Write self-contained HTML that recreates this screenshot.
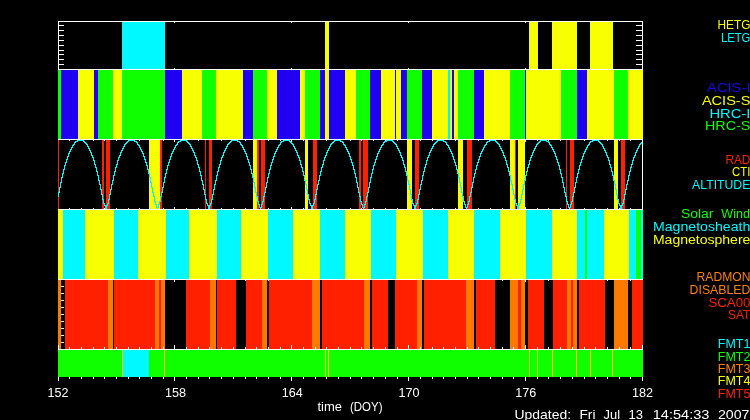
<!DOCTYPE html>
<html><head><meta charset="utf-8"><title>Chandra mission timeline</title>
<style>
html,body{margin:0;padding:0;background:#000;}
body{width:750px;height:420px;overflow:hidden;}
svg{display:block;}
svg text{font-family:"Liberation Sans", sans-serif;}
.blocks rect{shape-rendering:crispEdges;}
</style></head><body>
<svg width="750" height="420" viewBox="0 0 750 420">
<rect x="0" y="0" width="750" height="420" fill="#000"/>
<g class="blocks">
<rect x="58" y="140" width="1" height="2" fill="#ffffff"/>
<rect x="69" y="140" width="1" height="1" fill="#ffffff"/>
<rect x="81" y="140" width="1" height="1" fill="#ffffff"/>
<rect x="93" y="140" width="1" height="1" fill="#ffffff"/>
<rect x="104" y="140" width="1" height="1" fill="#ffffff"/>
<rect x="116" y="140" width="1" height="1" fill="#ffffff"/>
<rect x="128" y="140" width="1" height="1" fill="#ffffff"/>
<rect x="139" y="140" width="1" height="1" fill="#ffffff"/>
<rect x="151" y="140" width="1" height="1" fill="#ffffff"/>
<rect x="163" y="140" width="1" height="1" fill="#ffffff"/>
<rect x="174" y="140" width="1" height="2" fill="#ffffff"/>
<rect x="186" y="140" width="1" height="1" fill="#ffffff"/>
<rect x="198" y="140" width="1" height="1" fill="#ffffff"/>
<rect x="209" y="140" width="1" height="1" fill="#ffffff"/>
<rect x="221" y="140" width="1" height="1" fill="#ffffff"/>
<rect x="233" y="140" width="1" height="1" fill="#ffffff"/>
<rect x="245" y="140" width="1" height="1" fill="#ffffff"/>
<rect x="256" y="140" width="1" height="1" fill="#ffffff"/>
<rect x="268" y="140" width="1" height="1" fill="#ffffff"/>
<rect x="280" y="140" width="1" height="1" fill="#ffffff"/>
<rect x="291" y="140" width="1" height="2" fill="#ffffff"/>
<rect x="303" y="140" width="1" height="1" fill="#ffffff"/>
<rect x="315" y="140" width="1" height="1" fill="#ffffff"/>
<rect x="326" y="140" width="1" height="1" fill="#ffffff"/>
<rect x="338" y="140" width="1" height="1" fill="#ffffff"/>
<rect x="350" y="140" width="1" height="1" fill="#ffffff"/>
<rect x="361" y="140" width="1" height="1" fill="#ffffff"/>
<rect x="373" y="140" width="1" height="1" fill="#ffffff"/>
<rect x="385" y="140" width="1" height="1" fill="#ffffff"/>
<rect x="397" y="140" width="1" height="1" fill="#ffffff"/>
<rect x="408" y="140" width="1" height="2" fill="#ffffff"/>
<rect x="420" y="140" width="1" height="1" fill="#ffffff"/>
<rect x="432" y="140" width="1" height="1" fill="#ffffff"/>
<rect x="443" y="140" width="1" height="1" fill="#ffffff"/>
<rect x="455" y="140" width="1" height="1" fill="#ffffff"/>
<rect x="467" y="140" width="1" height="1" fill="#ffffff"/>
<rect x="478" y="140" width="1" height="1" fill="#ffffff"/>
<rect x="490" y="140" width="1" height="1" fill="#ffffff"/>
<rect x="502" y="140" width="1" height="1" fill="#ffffff"/>
<rect x="513" y="140" width="1" height="1" fill="#ffffff"/>
<rect x="525" y="140" width="1" height="2" fill="#ffffff"/>
<rect x="537" y="140" width="1" height="1" fill="#ffffff"/>
<rect x="548" y="140" width="1" height="1" fill="#ffffff"/>
<rect x="560" y="140" width="1" height="1" fill="#ffffff"/>
<rect x="572" y="140" width="1" height="1" fill="#ffffff"/>
<rect x="584" y="140" width="1" height="1" fill="#ffffff"/>
<rect x="595" y="140" width="1" height="1" fill="#ffffff"/>
<rect x="607" y="140" width="1" height="1" fill="#ffffff"/>
<rect x="619" y="140" width="1" height="1" fill="#ffffff"/>
<rect x="630" y="140" width="1" height="1" fill="#ffffff"/>
<rect x="642" y="140" width="1" height="2" fill="#ffffff"/>
<rect x="58" y="207" width="1" height="2" fill="#ffffff"/>
<rect x="69" y="208" width="1" height="1" fill="#ffffff"/>
<rect x="81" y="208" width="1" height="1" fill="#ffffff"/>
<rect x="93" y="208" width="1" height="1" fill="#ffffff"/>
<rect x="104" y="208" width="1" height="1" fill="#ffffff"/>
<rect x="116" y="208" width="1" height="1" fill="#ffffff"/>
<rect x="128" y="208" width="1" height="1" fill="#ffffff"/>
<rect x="139" y="208" width="1" height="1" fill="#ffffff"/>
<rect x="151" y="208" width="1" height="1" fill="#ffffff"/>
<rect x="163" y="208" width="1" height="1" fill="#ffffff"/>
<rect x="174" y="207" width="1" height="2" fill="#ffffff"/>
<rect x="186" y="208" width="1" height="1" fill="#ffffff"/>
<rect x="198" y="208" width="1" height="1" fill="#ffffff"/>
<rect x="209" y="208" width="1" height="1" fill="#ffffff"/>
<rect x="221" y="208" width="1" height="1" fill="#ffffff"/>
<rect x="233" y="208" width="1" height="1" fill="#ffffff"/>
<rect x="245" y="208" width="1" height="1" fill="#ffffff"/>
<rect x="256" y="208" width="1" height="1" fill="#ffffff"/>
<rect x="268" y="208" width="1" height="1" fill="#ffffff"/>
<rect x="280" y="208" width="1" height="1" fill="#ffffff"/>
<rect x="291" y="207" width="1" height="2" fill="#ffffff"/>
<rect x="303" y="208" width="1" height="1" fill="#ffffff"/>
<rect x="315" y="208" width="1" height="1" fill="#ffffff"/>
<rect x="326" y="208" width="1" height="1" fill="#ffffff"/>
<rect x="338" y="208" width="1" height="1" fill="#ffffff"/>
<rect x="350" y="208" width="1" height="1" fill="#ffffff"/>
<rect x="361" y="208" width="1" height="1" fill="#ffffff"/>
<rect x="373" y="208" width="1" height="1" fill="#ffffff"/>
<rect x="385" y="208" width="1" height="1" fill="#ffffff"/>
<rect x="397" y="208" width="1" height="1" fill="#ffffff"/>
<rect x="408" y="207" width="1" height="2" fill="#ffffff"/>
<rect x="420" y="208" width="1" height="1" fill="#ffffff"/>
<rect x="432" y="208" width="1" height="1" fill="#ffffff"/>
<rect x="443" y="208" width="1" height="1" fill="#ffffff"/>
<rect x="455" y="208" width="1" height="1" fill="#ffffff"/>
<rect x="467" y="208" width="1" height="1" fill="#ffffff"/>
<rect x="478" y="208" width="1" height="1" fill="#ffffff"/>
<rect x="490" y="208" width="1" height="1" fill="#ffffff"/>
<rect x="502" y="208" width="1" height="1" fill="#ffffff"/>
<rect x="513" y="208" width="1" height="1" fill="#ffffff"/>
<rect x="525" y="207" width="1" height="2" fill="#ffffff"/>
<rect x="537" y="208" width="1" height="1" fill="#ffffff"/>
<rect x="548" y="208" width="1" height="1" fill="#ffffff"/>
<rect x="560" y="208" width="1" height="1" fill="#ffffff"/>
<rect x="572" y="208" width="1" height="1" fill="#ffffff"/>
<rect x="584" y="208" width="1" height="1" fill="#ffffff"/>
<rect x="595" y="208" width="1" height="1" fill="#ffffff"/>
<rect x="607" y="208" width="1" height="1" fill="#ffffff"/>
<rect x="619" y="208" width="1" height="1" fill="#ffffff"/>
<rect x="630" y="208" width="1" height="1" fill="#ffffff"/>
<rect x="642" y="207" width="1" height="2" fill="#ffffff"/>
<rect x="58" y="280" width="1" height="2" fill="#ffffff"/>
<rect x="69" y="280" width="1" height="1" fill="#ffffff"/>
<rect x="81" y="280" width="1" height="1" fill="#ffffff"/>
<rect x="93" y="280" width="1" height="1" fill="#ffffff"/>
<rect x="104" y="280" width="1" height="1" fill="#ffffff"/>
<rect x="116" y="280" width="1" height="1" fill="#ffffff"/>
<rect x="128" y="280" width="1" height="1" fill="#ffffff"/>
<rect x="139" y="280" width="1" height="1" fill="#ffffff"/>
<rect x="151" y="280" width="1" height="1" fill="#ffffff"/>
<rect x="163" y="280" width="1" height="1" fill="#ffffff"/>
<rect x="174" y="280" width="1" height="2" fill="#ffffff"/>
<rect x="186" y="280" width="1" height="1" fill="#ffffff"/>
<rect x="198" y="280" width="1" height="1" fill="#ffffff"/>
<rect x="209" y="280" width="1" height="1" fill="#ffffff"/>
<rect x="221" y="280" width="1" height="1" fill="#ffffff"/>
<rect x="233" y="280" width="1" height="1" fill="#ffffff"/>
<rect x="245" y="280" width="1" height="1" fill="#ffffff"/>
<rect x="256" y="280" width="1" height="1" fill="#ffffff"/>
<rect x="268" y="280" width="1" height="1" fill="#ffffff"/>
<rect x="280" y="280" width="1" height="1" fill="#ffffff"/>
<rect x="291" y="280" width="1" height="2" fill="#ffffff"/>
<rect x="303" y="280" width="1" height="1" fill="#ffffff"/>
<rect x="315" y="280" width="1" height="1" fill="#ffffff"/>
<rect x="326" y="280" width="1" height="1" fill="#ffffff"/>
<rect x="338" y="280" width="1" height="1" fill="#ffffff"/>
<rect x="350" y="280" width="1" height="1" fill="#ffffff"/>
<rect x="361" y="280" width="1" height="1" fill="#ffffff"/>
<rect x="373" y="280" width="1" height="1" fill="#ffffff"/>
<rect x="385" y="280" width="1" height="1" fill="#ffffff"/>
<rect x="397" y="280" width="1" height="1" fill="#ffffff"/>
<rect x="408" y="280" width="1" height="2" fill="#ffffff"/>
<rect x="420" y="280" width="1" height="1" fill="#ffffff"/>
<rect x="432" y="280" width="1" height="1" fill="#ffffff"/>
<rect x="443" y="280" width="1" height="1" fill="#ffffff"/>
<rect x="455" y="280" width="1" height="1" fill="#ffffff"/>
<rect x="467" y="280" width="1" height="1" fill="#ffffff"/>
<rect x="478" y="280" width="1" height="1" fill="#ffffff"/>
<rect x="490" y="280" width="1" height="1" fill="#ffffff"/>
<rect x="502" y="280" width="1" height="1" fill="#ffffff"/>
<rect x="513" y="280" width="1" height="1" fill="#ffffff"/>
<rect x="525" y="280" width="1" height="2" fill="#ffffff"/>
<rect x="537" y="280" width="1" height="1" fill="#ffffff"/>
<rect x="548" y="280" width="1" height="1" fill="#ffffff"/>
<rect x="560" y="280" width="1" height="1" fill="#ffffff"/>
<rect x="572" y="280" width="1" height="1" fill="#ffffff"/>
<rect x="584" y="280" width="1" height="1" fill="#ffffff"/>
<rect x="595" y="280" width="1" height="1" fill="#ffffff"/>
<rect x="607" y="280" width="1" height="1" fill="#ffffff"/>
<rect x="619" y="280" width="1" height="1" fill="#ffffff"/>
<rect x="630" y="280" width="1" height="1" fill="#ffffff"/>
<rect x="642" y="280" width="1" height="2" fill="#ffffff"/>
</g>
<g class="blocks">
<rect x="122" y="22" width="43" height="47" fill="#00f8ff"/>
<rect x="325" y="22" width="4" height="47" fill="#f8ff00"/>
<rect x="529" y="22" width="9" height="47" fill="#f8ff00"/>
<rect x="552" y="22" width="25" height="47" fill="#f8ff00"/>
<rect x="590" y="22" width="23" height="47" fill="#f8ff00"/>
<rect x="58" y="70" width="3" height="69" fill="#10ff00"/>
<rect x="61" y="70" width="17" height="69" fill="#2000f0"/>
<rect x="78" y="70" width="16" height="69" fill="#f8ff00"/>
<rect x="94" y="70" width="4" height="69" fill="#2000f0"/>
<rect x="98" y="70" width="15" height="69" fill="#10ff00"/>
<rect x="113" y="70" width="9" height="69" fill="#f8ff00"/>
<rect x="122" y="70" width="43" height="69" fill="#10ff00"/>
<rect x="165" y="70" width="17" height="69" fill="#2000f0"/>
<rect x="182" y="70" width="20" height="69" fill="#f8ff00"/>
<rect x="202" y="70" width="14" height="69" fill="#10ff00"/>
<rect x="216" y="70" width="27" height="69" fill="#f8ff00"/>
<rect x="243" y="70" width="10" height="69" fill="#2000f0"/>
<rect x="253" y="70" width="14" height="69" fill="#10ff00"/>
<rect x="267" y="70" width="10" height="69" fill="#f8ff00"/>
<rect x="277" y="70" width="23" height="69" fill="#2000f0"/>
<rect x="300" y="70" width="5" height="69" fill="#f8ff00"/>
<rect x="305" y="70" width="15" height="69" fill="#10ff00"/>
<rect x="320" y="70" width="5" height="69" fill="#2000f0"/>
<rect x="325" y="70" width="4" height="69" fill="#f8ff00"/>
<rect x="329" y="70" width="16" height="69" fill="#2000f0"/>
<rect x="345" y="70" width="11" height="69" fill="#f8ff00"/>
<rect x="356" y="70" width="14" height="69" fill="#10ff00"/>
<rect x="370" y="70" width="11" height="69" fill="#2000f0"/>
<rect x="381" y="70" width="14" height="69" fill="#f8ff00"/>
<rect x="395" y="70" width="1" height="69" fill="#2000f0"/>
<rect x="396" y="70" width="5" height="69" fill="#f8ff00"/>
<rect x="401" y="70" width="6" height="69" fill="#2000f0"/>
<rect x="407" y="70" width="15" height="69" fill="#10ff00"/>
<rect x="422" y="70" width="10" height="69" fill="#2000f0"/>
<rect x="432" y="70" width="16" height="69" fill="#f8ff00"/>
<rect x="448" y="70" width="2" height="69" fill="#00f8ff"/>
<rect x="450" y="70" width="2" height="69" fill="#f8ff00"/>
<rect x="452" y="70" width="2" height="69" fill="#2000f0"/>
<rect x="454" y="70" width="4" height="69" fill="#f8ff00"/>
<rect x="458" y="70" width="16" height="69" fill="#10ff00"/>
<rect x="474" y="70" width="10" height="69" fill="#2000f0"/>
<rect x="484" y="70" width="26" height="69" fill="#f8ff00"/>
<rect x="510" y="70" width="15" height="69" fill="#10ff00"/>
<rect x="525" y="70" width="1" height="69" fill="#2000f0"/>
<rect x="526" y="70" width="35" height="69" fill="#f8ff00"/>
<rect x="561" y="70" width="16" height="69" fill="#10ff00"/>
<rect x="577" y="70" width="10" height="69" fill="#2000f0"/>
<rect x="587" y="70" width="27" height="69" fill="#f8ff00"/>
<rect x="614" y="70" width="14" height="69" fill="#10ff00"/>
<rect x="628" y="70" width="15" height="69" fill="#f8ff00"/>
<rect x="58" y="140" width="1" height="69" fill="#ff2000"/>
<rect x="102" y="140" width="2" height="69" fill="#ff2000"/>
<rect x="106" y="140" width="4" height="69" fill="#ff2000"/>
<rect x="149" y="140" width="11" height="69" fill="#f8ff00"/>
<rect x="160" y="140" width="2" height="69" fill="#ff2000"/>
<rect x="205" y="140" width="1" height="69" fill="#ff2000"/>
<rect x="209" y="140" width="3" height="69" fill="#ff2000"/>
<rect x="253" y="140" width="4" height="69" fill="#f8ff00"/>
<rect x="257" y="140" width="2" height="69" fill="#ff2000"/>
<rect x="261" y="140" width="4" height="69" fill="#ff2000"/>
<rect x="305" y="140" width="3" height="69" fill="#f8ff00"/>
<rect x="313" y="140" width="4" height="69" fill="#ff2000"/>
<rect x="359" y="140" width="2" height="69" fill="#ff2000"/>
<rect x="363" y="140" width="5" height="69" fill="#ff2000"/>
<rect x="407" y="140" width="5" height="69" fill="#f8ff00"/>
<rect x="415" y="140" width="4" height="69" fill="#ff2000"/>
<rect x="458" y="140" width="5" height="69" fill="#f8ff00"/>
<rect x="467" y="140" width="5" height="69" fill="#ff2000"/>
<rect x="510" y="140" width="5" height="69" fill="#f8ff00"/>
<rect x="515" y="140" width="1" height="69" fill="#ff2000"/>
<rect x="518" y="140" width="7" height="69" fill="#f8ff00"/>
<rect x="566" y="140" width="1" height="69" fill="#ff2000"/>
<rect x="570" y="140" width="4" height="69" fill="#ff2000"/>
<rect x="614" y="140" width="4" height="69" fill="#f8ff00"/>
<rect x="621" y="140" width="4" height="69" fill="#ff2000"/>
<rect x="58" y="210" width="5" height="69" fill="#f8ff00"/>
<rect x="63" y="210" width="22" height="69" fill="#00f8ff"/>
<rect x="85" y="210" width="29" height="69" fill="#f8ff00"/>
<rect x="114" y="210" width="24" height="69" fill="#00f8ff"/>
<rect x="138" y="210" width="28" height="69" fill="#f8ff00"/>
<rect x="166" y="210" width="23" height="69" fill="#00f8ff"/>
<rect x="189" y="210" width="28" height="69" fill="#f8ff00"/>
<rect x="217" y="210" width="24" height="69" fill="#00f8ff"/>
<rect x="241" y="210" width="27" height="69" fill="#f8ff00"/>
<rect x="268" y="210" width="25" height="69" fill="#00f8ff"/>
<rect x="293" y="210" width="27" height="69" fill="#f8ff00"/>
<rect x="320" y="210" width="25" height="69" fill="#00f8ff"/>
<rect x="345" y="210" width="26" height="69" fill="#f8ff00"/>
<rect x="371" y="210" width="25" height="69" fill="#00f8ff"/>
<rect x="396" y="210" width="27" height="69" fill="#f8ff00"/>
<rect x="423" y="210" width="25" height="69" fill="#00f8ff"/>
<rect x="448" y="210" width="26" height="69" fill="#f8ff00"/>
<rect x="474" y="210" width="26" height="69" fill="#00f8ff"/>
<rect x="500" y="210" width="26" height="69" fill="#f8ff00"/>
<rect x="526" y="210" width="26" height="69" fill="#00f8ff"/>
<rect x="552" y="210" width="25" height="69" fill="#f8ff00"/>
<rect x="577" y="210" width="8" height="69" fill="#00f8ff"/>
<rect x="585" y="210" width="2" height="69" fill="#10ff00"/>
<rect x="587" y="210" width="17" height="69" fill="#00f8ff"/>
<rect x="604" y="210" width="25" height="69" fill="#f8ff00"/>
<rect x="629" y="210" width="7" height="69" fill="#00f8ff"/>
<rect x="636" y="210" width="5" height="69" fill="#10ff00"/>
<rect x="641" y="210" width="2" height="69" fill="#00f8ff"/>
<rect x="58" y="280" width="3" height="69" fill="#ff7800"/>
<rect x="65" y="280" width="43" height="69" fill="#ff2000"/>
<rect x="108" y="280" width="5" height="69" fill="#ff7800"/>
<rect x="114" y="280" width="41" height="69" fill="#ff2000"/>
<rect x="155" y="280" width="4" height="69" fill="#ff7800"/>
<rect x="159" y="280" width="2" height="69" fill="#ff2000"/>
<rect x="161" y="280" width="4" height="69" fill="#ff7800"/>
<rect x="186" y="280" width="24" height="69" fill="#ff2000"/>
<rect x="210" y="280" width="6" height="69" fill="#ff7800"/>
<rect x="217" y="280" width="19" height="69" fill="#ff2000"/>
<rect x="246" y="280" width="16" height="69" fill="#ff2000"/>
<rect x="262" y="280" width="5" height="69" fill="#ff7800"/>
<rect x="269" y="280" width="43" height="69" fill="#ff2000"/>
<rect x="312" y="280" width="8" height="69" fill="#ff7800"/>
<rect x="322" y="280" width="42" height="69" fill="#ff2000"/>
<rect x="364" y="280" width="6" height="69" fill="#ff7800"/>
<rect x="372" y="280" width="16" height="69" fill="#ff2000"/>
<rect x="395" y="280" width="22" height="69" fill="#ff2000"/>
<rect x="417" y="280" width="5" height="69" fill="#ff7800"/>
<rect x="424" y="280" width="42" height="69" fill="#ff2000"/>
<rect x="466" y="280" width="8" height="69" fill="#ff7800"/>
<rect x="476" y="280" width="19" height="69" fill="#ff2000"/>
<rect x="510" y="280" width="8" height="69" fill="#ff7800"/>
<rect x="518" y="280" width="3" height="69" fill="#ff2000"/>
<rect x="521" y="280" width="4" height="69" fill="#ff7800"/>
<rect x="528" y="280" width="16" height="69" fill="#ff2000"/>
<rect x="553" y="280" width="14" height="69" fill="#ff2000"/>
<rect x="567" y="280" width="4" height="69" fill="#ff7800"/>
<rect x="571" y="280" width="2" height="69" fill="#ff2000"/>
<rect x="573" y="280" width="4" height="69" fill="#ff7800"/>
<rect x="579" y="280" width="26" height="69" fill="#ff2000"/>
<rect x="614" y="280" width="14" height="69" fill="#ff7800"/>
<rect x="632" y="280" width="11" height="69" fill="#ff2000"/>
<rect x="58" y="350" width="585" height="27" fill="#10ff00"/>
<rect x="122" y="350" width="1" height="27" fill="#f8ff00"/>
<rect x="123" y="350" width="26" height="27" fill="#00f8ff"/>
<rect x="164" y="350" width="1" height="27" fill="#f8ff00"/>
<rect x="325" y="350" width="1" height="27" fill="#f8ff00"/>
<rect x="328" y="350" width="1" height="27" fill="#f8ff00"/>
<rect x="529" y="350" width="1" height="27" fill="#f8ff00"/>
<rect x="537" y="350" width="1" height="27" fill="#f8ff00"/>
<rect x="552" y="350" width="1" height="27" fill="#f8ff00"/>
<rect x="576" y="350" width="1" height="27" fill="#f8ff00"/>
<rect x="590" y="350" width="1" height="27" fill="#f8ff00"/>
<rect x="612" y="350" width="1" height="27" fill="#f8ff00"/>
</g>
<g class="blocks"><rect x="58" y="192" width="1" height="5" fill="#00f8ff"/><rect x="59" y="187" width="1" height="6" fill="#00f8ff"/><rect x="60" y="182" width="1" height="6" fill="#00f8ff"/><rect x="61" y="177" width="1" height="6" fill="#00f8ff"/><rect x="62" y="173" width="1" height="5" fill="#00f8ff"/><rect x="63" y="169" width="1" height="5" fill="#00f8ff"/><rect x="64" y="165" width="1" height="5" fill="#00f8ff"/><rect x="65" y="162" width="1" height="4" fill="#00f8ff"/><rect x="66" y="159" width="1" height="4" fill="#00f8ff"/><rect x="67" y="156" width="1" height="4" fill="#00f8ff"/><rect x="68" y="153" width="1" height="4" fill="#00f8ff"/><rect x="69" y="151" width="1" height="3" fill="#00f8ff"/><rect x="70" y="149" width="1" height="3" fill="#00f8ff"/><rect x="71" y="147" width="1" height="3" fill="#00f8ff"/><rect x="72" y="145" width="1" height="3" fill="#00f8ff"/><rect x="73" y="144" width="1" height="2" fill="#00f8ff"/><rect x="74" y="142" width="1" height="3" fill="#00f8ff"/><rect x="75" y="141" width="1" height="2" fill="#00f8ff"/><rect x="76" y="141" width="1" height="1" fill="#00f8ff"/><rect x="77" y="140" width="1" height="2" fill="#00f8ff"/><rect x="78" y="140" width="1" height="1" fill="#00f8ff"/><rect x="79" y="139" width="1" height="2" fill="#00f8ff"/><rect x="80" y="139" width="1" height="2" fill="#00f8ff"/><rect x="81" y="140" width="1" height="1" fill="#00f8ff"/><rect x="82" y="140" width="1" height="1" fill="#00f8ff"/><rect x="83" y="140" width="1" height="2" fill="#00f8ff"/><rect x="84" y="141" width="1" height="2" fill="#00f8ff"/><rect x="85" y="142" width="1" height="2" fill="#00f8ff"/><rect x="86" y="143" width="1" height="2" fill="#00f8ff"/><rect x="87" y="144" width="1" height="3" fill="#00f8ff"/><rect x="88" y="146" width="1" height="3" fill="#00f8ff"/><rect x="89" y="148" width="1" height="3" fill="#00f8ff"/><rect x="90" y="150" width="1" height="3" fill="#00f8ff"/><rect x="91" y="152" width="1" height="4" fill="#00f8ff"/><rect x="92" y="155" width="1" height="3" fill="#00f8ff"/><rect x="93" y="157" width="1" height="4" fill="#00f8ff"/><rect x="94" y="160" width="1" height="5" fill="#00f8ff"/><rect x="95" y="164" width="1" height="4" fill="#00f8ff"/><rect x="96" y="167" width="1" height="5" fill="#00f8ff"/><rect x="97" y="171" width="1" height="5" fill="#00f8ff"/><rect x="98" y="175" width="1" height="6" fill="#00f8ff"/><rect x="99" y="180" width="1" height="5" fill="#00f8ff"/><rect x="100" y="184" width="1" height="6" fill="#00f8ff"/><rect x="101" y="189" width="1" height="6" fill="#00f8ff"/><rect x="102" y="194" width="1" height="6" fill="#00f8ff"/><rect x="103" y="199" width="1" height="5" fill="#00f8ff"/><rect x="104" y="203" width="1" height="3" fill="#00f8ff"/><rect x="105" y="205" width="1" height="4" fill="#00f8ff"/><rect x="106" y="205" width="1" height="4" fill="#00f8ff"/><rect x="107" y="203" width="1" height="3" fill="#00f8ff"/><rect x="108" y="199" width="1" height="5" fill="#00f8ff"/><rect x="109" y="194" width="1" height="6" fill="#00f8ff"/><rect x="110" y="189" width="1" height="6" fill="#00f8ff"/><rect x="111" y="184" width="1" height="6" fill="#00f8ff"/><rect x="112" y="180" width="1" height="5" fill="#00f8ff"/><rect x="113" y="175" width="1" height="6" fill="#00f8ff"/><rect x="114" y="171" width="1" height="5" fill="#00f8ff"/><rect x="115" y="167" width="1" height="5" fill="#00f8ff"/><rect x="116" y="164" width="1" height="4" fill="#00f8ff"/><rect x="117" y="160" width="1" height="5" fill="#00f8ff"/><rect x="118" y="157" width="1" height="4" fill="#00f8ff"/><rect x="119" y="155" width="1" height="3" fill="#00f8ff"/><rect x="120" y="152" width="1" height="4" fill="#00f8ff"/><rect x="121" y="150" width="1" height="3" fill="#00f8ff"/><rect x="122" y="148" width="1" height="3" fill="#00f8ff"/><rect x="123" y="146" width="1" height="3" fill="#00f8ff"/><rect x="124" y="144" width="1" height="3" fill="#00f8ff"/><rect x="125" y="143" width="1" height="2" fill="#00f8ff"/><rect x="126" y="142" width="1" height="2" fill="#00f8ff"/><rect x="127" y="141" width="1" height="2" fill="#00f8ff"/><rect x="128" y="140" width="1" height="2" fill="#00f8ff"/><rect x="129" y="140" width="1" height="1" fill="#00f8ff"/><rect x="130" y="140" width="1" height="1" fill="#00f8ff"/><rect x="131" y="139" width="1" height="2" fill="#00f8ff"/><rect x="132" y="139" width="1" height="2" fill="#00f8ff"/><rect x="133" y="140" width="1" height="1" fill="#00f8ff"/><rect x="134" y="140" width="1" height="2" fill="#00f8ff"/><rect x="135" y="141" width="1" height="1" fill="#00f8ff"/><rect x="136" y="141" width="1" height="2" fill="#00f8ff"/><rect x="137" y="142" width="1" height="3" fill="#00f8ff"/><rect x="138" y="144" width="1" height="2" fill="#00f8ff"/><rect x="139" y="145" width="1" height="3" fill="#00f8ff"/><rect x="140" y="147" width="1" height="3" fill="#00f8ff"/><rect x="141" y="149" width="1" height="3" fill="#00f8ff"/><rect x="142" y="151" width="1" height="3" fill="#00f8ff"/><rect x="143" y="153" width="1" height="4" fill="#00f8ff"/><rect x="144" y="156" width="1" height="4" fill="#00f8ff"/><rect x="145" y="159" width="1" height="4" fill="#00f8ff"/><rect x="146" y="162" width="1" height="4" fill="#00f8ff"/><rect x="147" y="165" width="1" height="5" fill="#00f8ff"/><rect x="148" y="169" width="1" height="5" fill="#00f8ff"/><rect x="149" y="173" width="1" height="5" fill="#00f8ff"/><rect x="150" y="177" width="1" height="6" fill="#00f8ff"/><rect x="151" y="182" width="1" height="6" fill="#00f8ff"/><rect x="152" y="187" width="1" height="6" fill="#00f8ff"/><rect x="153" y="192" width="1" height="5" fill="#00f8ff"/><rect x="154" y="196" width="1" height="6" fill="#00f8ff"/><rect x="155" y="201" width="1" height="4" fill="#00f8ff"/><rect x="156" y="204" width="1" height="4" fill="#00f8ff"/><rect x="157" y="207" width="1" height="2" fill="#00f8ff"/><rect x="158" y="204" width="1" height="4" fill="#00f8ff"/><rect x="159" y="201" width="1" height="4" fill="#00f8ff"/><rect x="160" y="196" width="1" height="6" fill="#00f8ff"/><rect x="161" y="192" width="1" height="5" fill="#00f8ff"/><rect x="162" y="187" width="1" height="6" fill="#00f8ff"/><rect x="163" y="182" width="1" height="6" fill="#00f8ff"/><rect x="164" y="177" width="1" height="6" fill="#00f8ff"/><rect x="165" y="173" width="1" height="5" fill="#00f8ff"/><rect x="166" y="169" width="1" height="5" fill="#00f8ff"/><rect x="167" y="165" width="1" height="5" fill="#00f8ff"/><rect x="168" y="162" width="1" height="4" fill="#00f8ff"/><rect x="169" y="159" width="1" height="4" fill="#00f8ff"/><rect x="170" y="156" width="1" height="4" fill="#00f8ff"/><rect x="171" y="153" width="1" height="4" fill="#00f8ff"/><rect x="172" y="151" width="1" height="3" fill="#00f8ff"/><rect x="173" y="149" width="1" height="3" fill="#00f8ff"/><rect x="174" y="147" width="1" height="3" fill="#00f8ff"/><rect x="175" y="145" width="1" height="3" fill="#00f8ff"/><rect x="176" y="144" width="1" height="2" fill="#00f8ff"/><rect x="177" y="142" width="1" height="3" fill="#00f8ff"/><rect x="178" y="141" width="1" height="2" fill="#00f8ff"/><rect x="179" y="141" width="1" height="1" fill="#00f8ff"/><rect x="180" y="140" width="1" height="2" fill="#00f8ff"/><rect x="181" y="140" width="1" height="1" fill="#00f8ff"/><rect x="182" y="139" width="1" height="2" fill="#00f8ff"/><rect x="183" y="139" width="1" height="2" fill="#00f8ff"/><rect x="184" y="140" width="1" height="1" fill="#00f8ff"/><rect x="185" y="140" width="1" height="1" fill="#00f8ff"/><rect x="186" y="140" width="1" height="2" fill="#00f8ff"/><rect x="187" y="141" width="1" height="2" fill="#00f8ff"/><rect x="188" y="142" width="1" height="2" fill="#00f8ff"/><rect x="189" y="143" width="1" height="2" fill="#00f8ff"/><rect x="190" y="144" width="1" height="3" fill="#00f8ff"/><rect x="191" y="146" width="1" height="3" fill="#00f8ff"/><rect x="192" y="148" width="1" height="3" fill="#00f8ff"/><rect x="193" y="150" width="1" height="3" fill="#00f8ff"/><rect x="194" y="152" width="1" height="4" fill="#00f8ff"/><rect x="195" y="155" width="1" height="3" fill="#00f8ff"/><rect x="196" y="157" width="1" height="4" fill="#00f8ff"/><rect x="197" y="160" width="1" height="5" fill="#00f8ff"/><rect x="198" y="164" width="1" height="4" fill="#00f8ff"/><rect x="199" y="167" width="1" height="5" fill="#00f8ff"/><rect x="200" y="171" width="1" height="5" fill="#00f8ff"/><rect x="201" y="175" width="1" height="6" fill="#00f8ff"/><rect x="202" y="180" width="1" height="5" fill="#00f8ff"/><rect x="203" y="184" width="1" height="6" fill="#00f8ff"/><rect x="204" y="189" width="1" height="6" fill="#00f8ff"/><rect x="205" y="194" width="1" height="6" fill="#00f8ff"/><rect x="206" y="199" width="1" height="5" fill="#00f8ff"/><rect x="207" y="203" width="1" height="3" fill="#00f8ff"/><rect x="208" y="205" width="1" height="4" fill="#00f8ff"/><rect x="209" y="205" width="1" height="4" fill="#00f8ff"/><rect x="210" y="203" width="1" height="3" fill="#00f8ff"/><rect x="211" y="199" width="1" height="5" fill="#00f8ff"/><rect x="212" y="194" width="1" height="6" fill="#00f8ff"/><rect x="213" y="189" width="1" height="6" fill="#00f8ff"/><rect x="214" y="184" width="1" height="6" fill="#00f8ff"/><rect x="215" y="180" width="1" height="5" fill="#00f8ff"/><rect x="216" y="175" width="1" height="6" fill="#00f8ff"/><rect x="217" y="171" width="1" height="5" fill="#00f8ff"/><rect x="218" y="167" width="1" height="5" fill="#00f8ff"/><rect x="219" y="164" width="1" height="4" fill="#00f8ff"/><rect x="220" y="160" width="1" height="5" fill="#00f8ff"/><rect x="221" y="157" width="1" height="4" fill="#00f8ff"/><rect x="222" y="155" width="1" height="3" fill="#00f8ff"/><rect x="223" y="152" width="1" height="4" fill="#00f8ff"/><rect x="224" y="150" width="1" height="3" fill="#00f8ff"/><rect x="225" y="148" width="1" height="3" fill="#00f8ff"/><rect x="226" y="146" width="1" height="3" fill="#00f8ff"/><rect x="227" y="144" width="1" height="3" fill="#00f8ff"/><rect x="228" y="143" width="1" height="2" fill="#00f8ff"/><rect x="229" y="142" width="1" height="2" fill="#00f8ff"/><rect x="230" y="141" width="1" height="2" fill="#00f8ff"/><rect x="231" y="140" width="1" height="2" fill="#00f8ff"/><rect x="232" y="140" width="1" height="1" fill="#00f8ff"/><rect x="233" y="140" width="1" height="1" fill="#00f8ff"/><rect x="234" y="139" width="1" height="2" fill="#00f8ff"/><rect x="235" y="139" width="1" height="2" fill="#00f8ff"/><rect x="236" y="140" width="1" height="1" fill="#00f8ff"/><rect x="237" y="140" width="1" height="2" fill="#00f8ff"/><rect x="238" y="141" width="1" height="1" fill="#00f8ff"/><rect x="239" y="141" width="1" height="2" fill="#00f8ff"/><rect x="240" y="142" width="1" height="3" fill="#00f8ff"/><rect x="241" y="144" width="1" height="2" fill="#00f8ff"/><rect x="242" y="145" width="1" height="3" fill="#00f8ff"/><rect x="243" y="147" width="1" height="3" fill="#00f8ff"/><rect x="244" y="149" width="1" height="3" fill="#00f8ff"/><rect x="245" y="151" width="1" height="3" fill="#00f8ff"/><rect x="246" y="153" width="1" height="4" fill="#00f8ff"/><rect x="247" y="156" width="1" height="4" fill="#00f8ff"/><rect x="248" y="159" width="1" height="4" fill="#00f8ff"/><rect x="249" y="162" width="1" height="4" fill="#00f8ff"/><rect x="250" y="165" width="1" height="5" fill="#00f8ff"/><rect x="251" y="169" width="1" height="5" fill="#00f8ff"/><rect x="252" y="173" width="1" height="5" fill="#00f8ff"/><rect x="253" y="177" width="1" height="6" fill="#00f8ff"/><rect x="254" y="182" width="1" height="6" fill="#00f8ff"/><rect x="255" y="187" width="1" height="6" fill="#00f8ff"/><rect x="256" y="192" width="1" height="5" fill="#00f8ff"/><rect x="257" y="196" width="1" height="6" fill="#00f8ff"/><rect x="258" y="201" width="1" height="4" fill="#00f8ff"/><rect x="259" y="204" width="1" height="4" fill="#00f8ff"/><rect x="260" y="207" width="1" height="2" fill="#00f8ff"/><rect x="261" y="204" width="1" height="4" fill="#00f8ff"/><rect x="262" y="201" width="1" height="4" fill="#00f8ff"/><rect x="263" y="196" width="1" height="6" fill="#00f8ff"/><rect x="264" y="192" width="1" height="5" fill="#00f8ff"/><rect x="265" y="187" width="1" height="6" fill="#00f8ff"/><rect x="266" y="182" width="1" height="6" fill="#00f8ff"/><rect x="267" y="177" width="1" height="6" fill="#00f8ff"/><rect x="268" y="173" width="1" height="5" fill="#00f8ff"/><rect x="269" y="169" width="1" height="5" fill="#00f8ff"/><rect x="270" y="165" width="1" height="5" fill="#00f8ff"/><rect x="271" y="162" width="1" height="4" fill="#00f8ff"/><rect x="272" y="159" width="1" height="4" fill="#00f8ff"/><rect x="273" y="156" width="1" height="4" fill="#00f8ff"/><rect x="274" y="153" width="1" height="4" fill="#00f8ff"/><rect x="275" y="151" width="1" height="3" fill="#00f8ff"/><rect x="276" y="149" width="1" height="3" fill="#00f8ff"/><rect x="277" y="147" width="1" height="3" fill="#00f8ff"/><rect x="278" y="145" width="1" height="3" fill="#00f8ff"/><rect x="279" y="144" width="1" height="2" fill="#00f8ff"/><rect x="280" y="142" width="1" height="3" fill="#00f8ff"/><rect x="281" y="141" width="1" height="2" fill="#00f8ff"/><rect x="282" y="141" width="1" height="1" fill="#00f8ff"/><rect x="283" y="140" width="1" height="2" fill="#00f8ff"/><rect x="284" y="140" width="1" height="1" fill="#00f8ff"/><rect x="285" y="139" width="1" height="2" fill="#00f8ff"/><rect x="286" y="139" width="1" height="2" fill="#00f8ff"/><rect x="287" y="140" width="1" height="1" fill="#00f8ff"/><rect x="288" y="140" width="1" height="1" fill="#00f8ff"/><rect x="289" y="140" width="1" height="2" fill="#00f8ff"/><rect x="290" y="141" width="1" height="2" fill="#00f8ff"/><rect x="291" y="142" width="1" height="2" fill="#00f8ff"/><rect x="292" y="143" width="1" height="2" fill="#00f8ff"/><rect x="293" y="144" width="1" height="3" fill="#00f8ff"/><rect x="294" y="146" width="1" height="3" fill="#00f8ff"/><rect x="295" y="148" width="1" height="3" fill="#00f8ff"/><rect x="296" y="150" width="1" height="3" fill="#00f8ff"/><rect x="297" y="152" width="1" height="4" fill="#00f8ff"/><rect x="298" y="155" width="1" height="3" fill="#00f8ff"/><rect x="299" y="157" width="1" height="4" fill="#00f8ff"/><rect x="300" y="160" width="1" height="5" fill="#00f8ff"/><rect x="301" y="164" width="1" height="4" fill="#00f8ff"/><rect x="302" y="167" width="1" height="5" fill="#00f8ff"/><rect x="303" y="171" width="1" height="5" fill="#00f8ff"/><rect x="304" y="175" width="1" height="6" fill="#00f8ff"/><rect x="305" y="180" width="1" height="5" fill="#00f8ff"/><rect x="306" y="184" width="1" height="6" fill="#00f8ff"/><rect x="307" y="189" width="1" height="6" fill="#00f8ff"/><rect x="308" y="194" width="1" height="6" fill="#00f8ff"/><rect x="309" y="199" width="1" height="5" fill="#00f8ff"/><rect x="310" y="203" width="1" height="3" fill="#00f8ff"/><rect x="311" y="205" width="1" height="4" fill="#00f8ff"/><rect x="312" y="205" width="1" height="4" fill="#00f8ff"/><rect x="313" y="203" width="1" height="3" fill="#00f8ff"/><rect x="314" y="199" width="1" height="5" fill="#00f8ff"/><rect x="315" y="194" width="1" height="6" fill="#00f8ff"/><rect x="316" y="189" width="1" height="6" fill="#00f8ff"/><rect x="317" y="184" width="1" height="6" fill="#00f8ff"/><rect x="318" y="180" width="1" height="5" fill="#00f8ff"/><rect x="319" y="175" width="1" height="6" fill="#00f8ff"/><rect x="320" y="171" width="1" height="5" fill="#00f8ff"/><rect x="321" y="167" width="1" height="5" fill="#00f8ff"/><rect x="322" y="164" width="1" height="4" fill="#00f8ff"/><rect x="323" y="160" width="1" height="5" fill="#00f8ff"/><rect x="324" y="157" width="1" height="4" fill="#00f8ff"/><rect x="325" y="155" width="1" height="3" fill="#00f8ff"/><rect x="326" y="152" width="1" height="4" fill="#00f8ff"/><rect x="327" y="150" width="1" height="3" fill="#00f8ff"/><rect x="328" y="148" width="1" height="3" fill="#00f8ff"/><rect x="329" y="146" width="1" height="3" fill="#00f8ff"/><rect x="330" y="144" width="1" height="3" fill="#00f8ff"/><rect x="331" y="143" width="1" height="2" fill="#00f8ff"/><rect x="332" y="142" width="1" height="2" fill="#00f8ff"/><rect x="333" y="141" width="1" height="2" fill="#00f8ff"/><rect x="334" y="140" width="1" height="2" fill="#00f8ff"/><rect x="335" y="140" width="1" height="1" fill="#00f8ff"/><rect x="336" y="140" width="1" height="1" fill="#00f8ff"/><rect x="337" y="139" width="1" height="2" fill="#00f8ff"/><rect x="338" y="139" width="1" height="2" fill="#00f8ff"/><rect x="339" y="140" width="1" height="1" fill="#00f8ff"/><rect x="340" y="140" width="1" height="2" fill="#00f8ff"/><rect x="341" y="141" width="1" height="1" fill="#00f8ff"/><rect x="342" y="141" width="1" height="2" fill="#00f8ff"/><rect x="343" y="142" width="1" height="3" fill="#00f8ff"/><rect x="344" y="144" width="1" height="2" fill="#00f8ff"/><rect x="345" y="145" width="1" height="3" fill="#00f8ff"/><rect x="346" y="147" width="1" height="3" fill="#00f8ff"/><rect x="347" y="149" width="1" height="3" fill="#00f8ff"/><rect x="348" y="151" width="1" height="3" fill="#00f8ff"/><rect x="349" y="153" width="1" height="4" fill="#00f8ff"/><rect x="350" y="156" width="1" height="4" fill="#00f8ff"/><rect x="351" y="159" width="1" height="4" fill="#00f8ff"/><rect x="352" y="162" width="1" height="4" fill="#00f8ff"/><rect x="353" y="165" width="1" height="5" fill="#00f8ff"/><rect x="354" y="169" width="1" height="5" fill="#00f8ff"/><rect x="355" y="173" width="1" height="5" fill="#00f8ff"/><rect x="356" y="177" width="1" height="6" fill="#00f8ff"/><rect x="357" y="182" width="1" height="6" fill="#00f8ff"/><rect x="358" y="187" width="1" height="6" fill="#00f8ff"/><rect x="359" y="192" width="1" height="5" fill="#00f8ff"/><rect x="360" y="196" width="1" height="6" fill="#00f8ff"/><rect x="361" y="201" width="1" height="4" fill="#00f8ff"/><rect x="362" y="204" width="1" height="4" fill="#00f8ff"/><rect x="363" y="207" width="1" height="2" fill="#00f8ff"/><rect x="364" y="204" width="1" height="4" fill="#00f8ff"/><rect x="365" y="201" width="1" height="4" fill="#00f8ff"/><rect x="366" y="196" width="1" height="6" fill="#00f8ff"/><rect x="367" y="192" width="1" height="5" fill="#00f8ff"/><rect x="368" y="187" width="1" height="6" fill="#00f8ff"/><rect x="369" y="182" width="1" height="6" fill="#00f8ff"/><rect x="370" y="177" width="1" height="6" fill="#00f8ff"/><rect x="371" y="173" width="1" height="5" fill="#00f8ff"/><rect x="372" y="169" width="1" height="5" fill="#00f8ff"/><rect x="373" y="165" width="1" height="5" fill="#00f8ff"/><rect x="374" y="162" width="1" height="4" fill="#00f8ff"/><rect x="375" y="159" width="1" height="4" fill="#00f8ff"/><rect x="376" y="156" width="1" height="4" fill="#00f8ff"/><rect x="377" y="153" width="1" height="4" fill="#00f8ff"/><rect x="378" y="151" width="1" height="3" fill="#00f8ff"/><rect x="379" y="149" width="1" height="3" fill="#00f8ff"/><rect x="380" y="147" width="1" height="3" fill="#00f8ff"/><rect x="381" y="145" width="1" height="3" fill="#00f8ff"/><rect x="382" y="144" width="1" height="2" fill="#00f8ff"/><rect x="383" y="142" width="1" height="3" fill="#00f8ff"/><rect x="384" y="141" width="1" height="2" fill="#00f8ff"/><rect x="385" y="141" width="1" height="1" fill="#00f8ff"/><rect x="386" y="140" width="1" height="2" fill="#00f8ff"/><rect x="387" y="140" width="1" height="1" fill="#00f8ff"/><rect x="388" y="139" width="1" height="2" fill="#00f8ff"/><rect x="389" y="139" width="1" height="2" fill="#00f8ff"/><rect x="390" y="140" width="1" height="1" fill="#00f8ff"/><rect x="391" y="140" width="1" height="1" fill="#00f8ff"/><rect x="392" y="140" width="1" height="2" fill="#00f8ff"/><rect x="393" y="141" width="1" height="2" fill="#00f8ff"/><rect x="394" y="142" width="1" height="2" fill="#00f8ff"/><rect x="395" y="143" width="1" height="2" fill="#00f8ff"/><rect x="396" y="144" width="1" height="3" fill="#00f8ff"/><rect x="397" y="146" width="1" height="3" fill="#00f8ff"/><rect x="398" y="148" width="1" height="3" fill="#00f8ff"/><rect x="399" y="150" width="1" height="3" fill="#00f8ff"/><rect x="400" y="152" width="1" height="4" fill="#00f8ff"/><rect x="401" y="155" width="1" height="3" fill="#00f8ff"/><rect x="402" y="157" width="1" height="4" fill="#00f8ff"/><rect x="403" y="160" width="1" height="5" fill="#00f8ff"/><rect x="404" y="164" width="1" height="4" fill="#00f8ff"/><rect x="405" y="167" width="1" height="5" fill="#00f8ff"/><rect x="406" y="171" width="1" height="5" fill="#00f8ff"/><rect x="407" y="175" width="1" height="6" fill="#00f8ff"/><rect x="408" y="180" width="1" height="5" fill="#00f8ff"/><rect x="409" y="184" width="1" height="6" fill="#00f8ff"/><rect x="410" y="189" width="1" height="6" fill="#00f8ff"/><rect x="411" y="194" width="1" height="6" fill="#00f8ff"/><rect x="412" y="199" width="1" height="5" fill="#00f8ff"/><rect x="413" y="203" width="1" height="3" fill="#00f8ff"/><rect x="414" y="205" width="1" height="4" fill="#00f8ff"/><rect x="415" y="205" width="1" height="4" fill="#00f8ff"/><rect x="416" y="203" width="1" height="3" fill="#00f8ff"/><rect x="417" y="199" width="1" height="5" fill="#00f8ff"/><rect x="418" y="194" width="1" height="6" fill="#00f8ff"/><rect x="419" y="189" width="1" height="6" fill="#00f8ff"/><rect x="420" y="184" width="1" height="6" fill="#00f8ff"/><rect x="421" y="180" width="1" height="5" fill="#00f8ff"/><rect x="422" y="175" width="1" height="6" fill="#00f8ff"/><rect x="423" y="171" width="1" height="5" fill="#00f8ff"/><rect x="424" y="167" width="1" height="5" fill="#00f8ff"/><rect x="425" y="164" width="1" height="4" fill="#00f8ff"/><rect x="426" y="160" width="1" height="5" fill="#00f8ff"/><rect x="427" y="157" width="1" height="4" fill="#00f8ff"/><rect x="428" y="155" width="1" height="3" fill="#00f8ff"/><rect x="429" y="152" width="1" height="4" fill="#00f8ff"/><rect x="430" y="150" width="1" height="3" fill="#00f8ff"/><rect x="431" y="148" width="1" height="3" fill="#00f8ff"/><rect x="432" y="146" width="1" height="3" fill="#00f8ff"/><rect x="433" y="144" width="1" height="3" fill="#00f8ff"/><rect x="434" y="143" width="1" height="2" fill="#00f8ff"/><rect x="435" y="142" width="1" height="2" fill="#00f8ff"/><rect x="436" y="141" width="1" height="2" fill="#00f8ff"/><rect x="437" y="140" width="1" height="2" fill="#00f8ff"/><rect x="438" y="140" width="1" height="1" fill="#00f8ff"/><rect x="439" y="140" width="1" height="1" fill="#00f8ff"/><rect x="440" y="139" width="1" height="2" fill="#00f8ff"/><rect x="441" y="139" width="1" height="2" fill="#00f8ff"/><rect x="442" y="140" width="1" height="1" fill="#00f8ff"/><rect x="443" y="140" width="1" height="2" fill="#00f8ff"/><rect x="444" y="141" width="1" height="1" fill="#00f8ff"/><rect x="445" y="141" width="1" height="2" fill="#00f8ff"/><rect x="446" y="142" width="1" height="3" fill="#00f8ff"/><rect x="447" y="144" width="1" height="2" fill="#00f8ff"/><rect x="448" y="145" width="1" height="3" fill="#00f8ff"/><rect x="449" y="147" width="1" height="3" fill="#00f8ff"/><rect x="450" y="149" width="1" height="3" fill="#00f8ff"/><rect x="451" y="151" width="1" height="3" fill="#00f8ff"/><rect x="452" y="153" width="1" height="4" fill="#00f8ff"/><rect x="453" y="156" width="1" height="4" fill="#00f8ff"/><rect x="454" y="159" width="1" height="4" fill="#00f8ff"/><rect x="455" y="162" width="1" height="4" fill="#00f8ff"/><rect x="456" y="165" width="1" height="5" fill="#00f8ff"/><rect x="457" y="169" width="1" height="5" fill="#00f8ff"/><rect x="458" y="173" width="1" height="5" fill="#00f8ff"/><rect x="459" y="177" width="1" height="6" fill="#00f8ff"/><rect x="460" y="182" width="1" height="6" fill="#00f8ff"/><rect x="461" y="187" width="1" height="6" fill="#00f8ff"/><rect x="462" y="192" width="1" height="5" fill="#00f8ff"/><rect x="463" y="196" width="1" height="6" fill="#00f8ff"/><rect x="464" y="201" width="1" height="4" fill="#00f8ff"/><rect x="465" y="204" width="1" height="4" fill="#00f8ff"/><rect x="466" y="207" width="1" height="2" fill="#00f8ff"/><rect x="467" y="204" width="1" height="4" fill="#00f8ff"/><rect x="468" y="201" width="1" height="4" fill="#00f8ff"/><rect x="469" y="196" width="1" height="6" fill="#00f8ff"/><rect x="470" y="192" width="1" height="5" fill="#00f8ff"/><rect x="471" y="187" width="1" height="6" fill="#00f8ff"/><rect x="472" y="182" width="1" height="6" fill="#00f8ff"/><rect x="473" y="177" width="1" height="6" fill="#00f8ff"/><rect x="474" y="173" width="1" height="5" fill="#00f8ff"/><rect x="475" y="169" width="1" height="5" fill="#00f8ff"/><rect x="476" y="165" width="1" height="5" fill="#00f8ff"/><rect x="477" y="162" width="1" height="4" fill="#00f8ff"/><rect x="478" y="159" width="1" height="4" fill="#00f8ff"/><rect x="479" y="156" width="1" height="4" fill="#00f8ff"/><rect x="480" y="153" width="1" height="4" fill="#00f8ff"/><rect x="481" y="151" width="1" height="3" fill="#00f8ff"/><rect x="482" y="149" width="1" height="3" fill="#00f8ff"/><rect x="483" y="147" width="1" height="3" fill="#00f8ff"/><rect x="484" y="145" width="1" height="3" fill="#00f8ff"/><rect x="485" y="144" width="1" height="2" fill="#00f8ff"/><rect x="486" y="142" width="1" height="3" fill="#00f8ff"/><rect x="487" y="141" width="1" height="2" fill="#00f8ff"/><rect x="488" y="141" width="1" height="1" fill="#00f8ff"/><rect x="489" y="140" width="1" height="2" fill="#00f8ff"/><rect x="490" y="140" width="1" height="1" fill="#00f8ff"/><rect x="491" y="139" width="1" height="2" fill="#00f8ff"/><rect x="492" y="139" width="1" height="2" fill="#00f8ff"/><rect x="493" y="140" width="1" height="1" fill="#00f8ff"/><rect x="494" y="140" width="1" height="1" fill="#00f8ff"/><rect x="495" y="140" width="1" height="2" fill="#00f8ff"/><rect x="496" y="141" width="1" height="2" fill="#00f8ff"/><rect x="497" y="142" width="1" height="2" fill="#00f8ff"/><rect x="498" y="143" width="1" height="2" fill="#00f8ff"/><rect x="499" y="144" width="1" height="3" fill="#00f8ff"/><rect x="500" y="146" width="1" height="3" fill="#00f8ff"/><rect x="501" y="148" width="1" height="3" fill="#00f8ff"/><rect x="502" y="150" width="1" height="3" fill="#00f8ff"/><rect x="503" y="152" width="1" height="4" fill="#00f8ff"/><rect x="504" y="155" width="1" height="3" fill="#00f8ff"/><rect x="505" y="157" width="1" height="4" fill="#00f8ff"/><rect x="506" y="160" width="1" height="5" fill="#00f8ff"/><rect x="507" y="164" width="1" height="4" fill="#00f8ff"/><rect x="508" y="167" width="1" height="5" fill="#00f8ff"/><rect x="509" y="171" width="1" height="5" fill="#00f8ff"/><rect x="510" y="175" width="1" height="6" fill="#00f8ff"/><rect x="511" y="180" width="1" height="5" fill="#00f8ff"/><rect x="512" y="184" width="1" height="6" fill="#00f8ff"/><rect x="513" y="189" width="1" height="6" fill="#00f8ff"/><rect x="514" y="194" width="1" height="6" fill="#00f8ff"/><rect x="515" y="199" width="1" height="5" fill="#00f8ff"/><rect x="516" y="203" width="1" height="3" fill="#00f8ff"/><rect x="517" y="205" width="1" height="4" fill="#00f8ff"/><rect x="518" y="205" width="1" height="4" fill="#00f8ff"/><rect x="519" y="203" width="1" height="3" fill="#00f8ff"/><rect x="520" y="199" width="1" height="5" fill="#00f8ff"/><rect x="521" y="194" width="1" height="6" fill="#00f8ff"/><rect x="522" y="189" width="1" height="6" fill="#00f8ff"/><rect x="523" y="184" width="1" height="6" fill="#00f8ff"/><rect x="524" y="180" width="1" height="5" fill="#00f8ff"/><rect x="525" y="175" width="1" height="6" fill="#00f8ff"/><rect x="526" y="171" width="1" height="5" fill="#00f8ff"/><rect x="527" y="167" width="1" height="5" fill="#00f8ff"/><rect x="528" y="164" width="1" height="4" fill="#00f8ff"/><rect x="529" y="160" width="1" height="5" fill="#00f8ff"/><rect x="530" y="157" width="1" height="4" fill="#00f8ff"/><rect x="531" y="155" width="1" height="3" fill="#00f8ff"/><rect x="532" y="152" width="1" height="4" fill="#00f8ff"/><rect x="533" y="150" width="1" height="3" fill="#00f8ff"/><rect x="534" y="148" width="1" height="3" fill="#00f8ff"/><rect x="535" y="146" width="1" height="3" fill="#00f8ff"/><rect x="536" y="144" width="1" height="3" fill="#00f8ff"/><rect x="537" y="143" width="1" height="2" fill="#00f8ff"/><rect x="538" y="142" width="1" height="2" fill="#00f8ff"/><rect x="539" y="141" width="1" height="2" fill="#00f8ff"/><rect x="540" y="140" width="1" height="2" fill="#00f8ff"/><rect x="541" y="140" width="1" height="1" fill="#00f8ff"/><rect x="542" y="140" width="1" height="1" fill="#00f8ff"/><rect x="543" y="139" width="1" height="2" fill="#00f8ff"/><rect x="544" y="139" width="1" height="2" fill="#00f8ff"/><rect x="545" y="140" width="1" height="1" fill="#00f8ff"/><rect x="546" y="140" width="1" height="2" fill="#00f8ff"/><rect x="547" y="141" width="1" height="1" fill="#00f8ff"/><rect x="548" y="141" width="1" height="2" fill="#00f8ff"/><rect x="549" y="142" width="1" height="3" fill="#00f8ff"/><rect x="550" y="144" width="1" height="2" fill="#00f8ff"/><rect x="551" y="145" width="1" height="3" fill="#00f8ff"/><rect x="552" y="147" width="1" height="3" fill="#00f8ff"/><rect x="553" y="149" width="1" height="3" fill="#00f8ff"/><rect x="554" y="151" width="1" height="3" fill="#00f8ff"/><rect x="555" y="153" width="1" height="4" fill="#00f8ff"/><rect x="556" y="156" width="1" height="4" fill="#00f8ff"/><rect x="557" y="159" width="1" height="4" fill="#00f8ff"/><rect x="558" y="162" width="1" height="4" fill="#00f8ff"/><rect x="559" y="165" width="1" height="5" fill="#00f8ff"/><rect x="560" y="169" width="1" height="5" fill="#00f8ff"/><rect x="561" y="173" width="1" height="5" fill="#00f8ff"/><rect x="562" y="177" width="1" height="6" fill="#00f8ff"/><rect x="563" y="182" width="1" height="6" fill="#00f8ff"/><rect x="564" y="187" width="1" height="6" fill="#00f8ff"/><rect x="565" y="192" width="1" height="5" fill="#00f8ff"/><rect x="566" y="196" width="1" height="6" fill="#00f8ff"/><rect x="567" y="201" width="1" height="4" fill="#00f8ff"/><rect x="568" y="204" width="1" height="4" fill="#00f8ff"/><rect x="569" y="207" width="1" height="2" fill="#00f8ff"/><rect x="570" y="204" width="1" height="4" fill="#00f8ff"/><rect x="571" y="201" width="1" height="4" fill="#00f8ff"/><rect x="572" y="196" width="1" height="6" fill="#00f8ff"/><rect x="573" y="192" width="1" height="5" fill="#00f8ff"/><rect x="574" y="187" width="1" height="6" fill="#00f8ff"/><rect x="575" y="182" width="1" height="6" fill="#00f8ff"/><rect x="576" y="177" width="1" height="6" fill="#00f8ff"/><rect x="577" y="173" width="1" height="5" fill="#00f8ff"/><rect x="578" y="169" width="1" height="5" fill="#00f8ff"/><rect x="579" y="165" width="1" height="5" fill="#00f8ff"/><rect x="580" y="162" width="1" height="4" fill="#00f8ff"/><rect x="581" y="159" width="1" height="4" fill="#00f8ff"/><rect x="582" y="156" width="1" height="4" fill="#00f8ff"/><rect x="583" y="153" width="1" height="4" fill="#00f8ff"/><rect x="584" y="151" width="1" height="3" fill="#00f8ff"/><rect x="585" y="149" width="1" height="3" fill="#00f8ff"/><rect x="586" y="147" width="1" height="3" fill="#00f8ff"/><rect x="587" y="145" width="1" height="3" fill="#00f8ff"/><rect x="588" y="144" width="1" height="2" fill="#00f8ff"/><rect x="589" y="142" width="1" height="3" fill="#00f8ff"/><rect x="590" y="141" width="1" height="2" fill="#00f8ff"/><rect x="591" y="141" width="1" height="1" fill="#00f8ff"/><rect x="592" y="140" width="1" height="2" fill="#00f8ff"/><rect x="593" y="140" width="1" height="1" fill="#00f8ff"/><rect x="594" y="139" width="1" height="2" fill="#00f8ff"/><rect x="595" y="139" width="1" height="2" fill="#00f8ff"/><rect x="596" y="140" width="1" height="1" fill="#00f8ff"/><rect x="597" y="140" width="1" height="1" fill="#00f8ff"/><rect x="598" y="140" width="1" height="2" fill="#00f8ff"/><rect x="599" y="141" width="1" height="2" fill="#00f8ff"/><rect x="600" y="142" width="1" height="2" fill="#00f8ff"/><rect x="601" y="143" width="1" height="2" fill="#00f8ff"/><rect x="602" y="144" width="1" height="3" fill="#00f8ff"/><rect x="603" y="146" width="1" height="3" fill="#00f8ff"/><rect x="604" y="148" width="1" height="3" fill="#00f8ff"/><rect x="605" y="150" width="1" height="3" fill="#00f8ff"/><rect x="606" y="152" width="1" height="4" fill="#00f8ff"/><rect x="607" y="155" width="1" height="3" fill="#00f8ff"/><rect x="608" y="157" width="1" height="4" fill="#00f8ff"/><rect x="609" y="160" width="1" height="5" fill="#00f8ff"/><rect x="610" y="164" width="1" height="4" fill="#00f8ff"/><rect x="611" y="167" width="1" height="5" fill="#00f8ff"/><rect x="612" y="171" width="1" height="5" fill="#00f8ff"/><rect x="613" y="175" width="1" height="6" fill="#00f8ff"/><rect x="614" y="180" width="1" height="5" fill="#00f8ff"/><rect x="615" y="184" width="1" height="6" fill="#00f8ff"/><rect x="616" y="189" width="1" height="6" fill="#00f8ff"/><rect x="617" y="194" width="1" height="6" fill="#00f8ff"/><rect x="618" y="199" width="1" height="5" fill="#00f8ff"/><rect x="619" y="203" width="1" height="3" fill="#00f8ff"/><rect x="620" y="205" width="1" height="4" fill="#00f8ff"/><rect x="621" y="205" width="1" height="4" fill="#00f8ff"/><rect x="622" y="203" width="1" height="3" fill="#00f8ff"/><rect x="623" y="199" width="1" height="5" fill="#00f8ff"/><rect x="624" y="194" width="1" height="6" fill="#00f8ff"/><rect x="625" y="189" width="1" height="6" fill="#00f8ff"/><rect x="626" y="184" width="1" height="6" fill="#00f8ff"/><rect x="627" y="180" width="1" height="5" fill="#00f8ff"/><rect x="628" y="175" width="1" height="6" fill="#00f8ff"/><rect x="629" y="171" width="1" height="5" fill="#00f8ff"/><rect x="630" y="167" width="1" height="5" fill="#00f8ff"/><rect x="631" y="164" width="1" height="4" fill="#00f8ff"/><rect x="632" y="160" width="1" height="5" fill="#00f8ff"/><rect x="633" y="157" width="1" height="4" fill="#00f8ff"/><rect x="634" y="155" width="1" height="3" fill="#00f8ff"/><rect x="635" y="152" width="1" height="4" fill="#00f8ff"/><rect x="636" y="150" width="1" height="3" fill="#00f8ff"/><rect x="637" y="148" width="1" height="3" fill="#00f8ff"/><rect x="638" y="146" width="1" height="3" fill="#00f8ff"/><rect x="639" y="144" width="1" height="3" fill="#00f8ff"/><rect x="640" y="143" width="1" height="2" fill="#00f8ff"/><rect x="641" y="142" width="1" height="2" fill="#00f8ff"/><rect x="642" y="141" width="1" height="2" fill="#00f8ff"/></g>
<g class="blocks">
<rect x="58" y="21" width="585" height="1" fill="#ffffff"/>
<rect x="58" y="69" width="585" height="1" fill="#ffffff"/>
<rect x="58" y="139" width="585" height="1" fill="#ffffff"/>
<rect x="58" y="209" width="585" height="1" fill="#ffffff"/>
<rect x="58" y="279" width="585" height="1" fill="#ffffff"/>
<rect x="58" y="349" width="585" height="1" fill="#ffffff"/>
<rect x="58" y="21" width="1" height="49" fill="#ffffff"/>
<rect x="642" y="21" width="1" height="49" fill="#ffffff"/>
<rect x="642" y="139" width="1" height="71" fill="#ffffff"/>
<rect x="58" y="25" width="6" height="1" fill="#ffffff"/>
<rect x="636" y="25" width="7" height="1" fill="#ffffff"/>
<rect x="58" y="30" width="6" height="1" fill="#ffffff"/>
<rect x="636" y="30" width="7" height="1" fill="#ffffff"/>
<rect x="58" y="35" width="6" height="1" fill="#ffffff"/>
<rect x="636" y="35" width="7" height="1" fill="#ffffff"/>
<rect x="58" y="40" width="6" height="1" fill="#ffffff"/>
<rect x="636" y="40" width="7" height="1" fill="#ffffff"/>
<rect x="58" y="45" width="6" height="1" fill="#ffffff"/>
<rect x="636" y="45" width="7" height="1" fill="#ffffff"/>
<rect x="58" y="50" width="6" height="1" fill="#ffffff"/>
<rect x="636" y="50" width="7" height="1" fill="#ffffff"/>
<rect x="58" y="54" width="6" height="1" fill="#ffffff"/>
<rect x="636" y="54" width="7" height="1" fill="#ffffff"/>
<rect x="58" y="59" width="6" height="1" fill="#ffffff"/>
<rect x="636" y="59" width="7" height="1" fill="#ffffff"/>
<rect x="58" y="64" width="6" height="1" fill="#ffffff"/>
<rect x="636" y="64" width="7" height="1" fill="#ffffff"/>
<rect x="61" y="286" width="3" height="1" fill="#ffffff"/>
<rect x="61" y="293" width="3" height="1" fill="#ffffff"/>
<rect x="61" y="300" width="3" height="1" fill="#ffffff"/>
<rect x="61" y="307" width="3" height="1" fill="#ffffff"/>
<rect x="61" y="314" width="3" height="1" fill="#ffffff"/>
<rect x="61" y="321" width="3" height="1" fill="#ffffff"/>
<rect x="61" y="328" width="3" height="1" fill="#ffffff"/>
<rect x="61" y="335" width="3" height="1" fill="#ffffff"/>
<rect x="61" y="342" width="3" height="1" fill="#ffffff"/>
<rect x="58" y="22" width="1" height="1" fill="#ffffff"/>
<rect x="174" y="22" width="1" height="1" fill="#ffffff"/>
<rect x="291" y="22" width="1" height="1" fill="#ffffff"/>
<rect x="408" y="22" width="1" height="1" fill="#ffffff"/>
<rect x="525" y="22" width="1" height="1" fill="#ffffff"/>
<rect x="642" y="22" width="1" height="1" fill="#ffffff"/>
<rect x="58" y="68" width="1" height="1" fill="#ffffff"/>
<rect x="174" y="68" width="1" height="1" fill="#ffffff"/>
<rect x="291" y="68" width="1" height="1" fill="#ffffff"/>
<rect x="408" y="68" width="1" height="1" fill="#ffffff"/>
<rect x="525" y="68" width="1" height="1" fill="#ffffff"/>
<rect x="642" y="68" width="1" height="1" fill="#ffffff"/>
<rect x="58" y="345" width="1" height="4" fill="#ffffff"/>
<rect x="69" y="347" width="1" height="2" fill="#ffffff"/>
<rect x="81" y="347" width="1" height="2" fill="#ffffff"/>
<rect x="93" y="347" width="1" height="2" fill="#ffffff"/>
<rect x="104" y="347" width="1" height="2" fill="#ffffff"/>
<rect x="116" y="347" width="1" height="2" fill="#ffffff"/>
<rect x="128" y="347" width="1" height="2" fill="#ffffff"/>
<rect x="139" y="347" width="1" height="2" fill="#ffffff"/>
<rect x="151" y="347" width="1" height="2" fill="#ffffff"/>
<rect x="163" y="347" width="1" height="2" fill="#ffffff"/>
<rect x="174" y="345" width="1" height="4" fill="#ffffff"/>
<rect x="186" y="347" width="1" height="2" fill="#ffffff"/>
<rect x="198" y="347" width="1" height="2" fill="#ffffff"/>
<rect x="209" y="347" width="1" height="2" fill="#ffffff"/>
<rect x="221" y="347" width="1" height="2" fill="#ffffff"/>
<rect x="233" y="347" width="1" height="2" fill="#ffffff"/>
<rect x="245" y="347" width="1" height="2" fill="#ffffff"/>
<rect x="256" y="347" width="1" height="2" fill="#ffffff"/>
<rect x="268" y="347" width="1" height="2" fill="#ffffff"/>
<rect x="280" y="347" width="1" height="2" fill="#ffffff"/>
<rect x="291" y="345" width="1" height="4" fill="#ffffff"/>
<rect x="303" y="347" width="1" height="2" fill="#ffffff"/>
<rect x="315" y="347" width="1" height="2" fill="#ffffff"/>
<rect x="326" y="347" width="1" height="2" fill="#ffffff"/>
<rect x="338" y="347" width="1" height="2" fill="#ffffff"/>
<rect x="350" y="347" width="1" height="2" fill="#ffffff"/>
<rect x="361" y="347" width="1" height="2" fill="#ffffff"/>
<rect x="373" y="347" width="1" height="2" fill="#ffffff"/>
<rect x="385" y="347" width="1" height="2" fill="#ffffff"/>
<rect x="397" y="347" width="1" height="2" fill="#ffffff"/>
<rect x="408" y="345" width="1" height="4" fill="#ffffff"/>
<rect x="420" y="347" width="1" height="2" fill="#ffffff"/>
<rect x="432" y="347" width="1" height="2" fill="#ffffff"/>
<rect x="443" y="347" width="1" height="2" fill="#ffffff"/>
<rect x="455" y="347" width="1" height="2" fill="#ffffff"/>
<rect x="467" y="347" width="1" height="2" fill="#ffffff"/>
<rect x="478" y="347" width="1" height="2" fill="#ffffff"/>
<rect x="490" y="347" width="1" height="2" fill="#ffffff"/>
<rect x="502" y="347" width="1" height="2" fill="#ffffff"/>
<rect x="513" y="347" width="1" height="2" fill="#ffffff"/>
<rect x="525" y="345" width="1" height="4" fill="#ffffff"/>
<rect x="537" y="347" width="1" height="2" fill="#ffffff"/>
<rect x="548" y="347" width="1" height="2" fill="#ffffff"/>
<rect x="560" y="347" width="1" height="2" fill="#ffffff"/>
<rect x="572" y="347" width="1" height="2" fill="#ffffff"/>
<rect x="584" y="347" width="1" height="2" fill="#ffffff"/>
<rect x="595" y="347" width="1" height="2" fill="#ffffff"/>
<rect x="607" y="347" width="1" height="2" fill="#ffffff"/>
<rect x="619" y="347" width="1" height="2" fill="#ffffff"/>
<rect x="630" y="347" width="1" height="2" fill="#ffffff"/>
<rect x="642" y="345" width="1" height="4" fill="#ffffff"/>
<rect x="58" y="377" width="1" height="4" fill="#ffffff"/>
<rect x="69" y="377" width="1" height="2" fill="#ffffff"/>
<rect x="81" y="377" width="1" height="2" fill="#ffffff"/>
<rect x="93" y="377" width="1" height="2" fill="#ffffff"/>
<rect x="104" y="377" width="1" height="2" fill="#ffffff"/>
<rect x="116" y="377" width="1" height="2" fill="#ffffff"/>
<rect x="128" y="377" width="1" height="2" fill="#ffffff"/>
<rect x="139" y="377" width="1" height="2" fill="#ffffff"/>
<rect x="151" y="377" width="1" height="2" fill="#ffffff"/>
<rect x="163" y="377" width="1" height="2" fill="#ffffff"/>
<rect x="174" y="377" width="1" height="4" fill="#ffffff"/>
<rect x="186" y="377" width="1" height="2" fill="#ffffff"/>
<rect x="198" y="377" width="1" height="2" fill="#ffffff"/>
<rect x="209" y="377" width="1" height="2" fill="#ffffff"/>
<rect x="221" y="377" width="1" height="2" fill="#ffffff"/>
<rect x="233" y="377" width="1" height="2" fill="#ffffff"/>
<rect x="245" y="377" width="1" height="2" fill="#ffffff"/>
<rect x="256" y="377" width="1" height="2" fill="#ffffff"/>
<rect x="268" y="377" width="1" height="2" fill="#ffffff"/>
<rect x="280" y="377" width="1" height="2" fill="#ffffff"/>
<rect x="291" y="377" width="1" height="4" fill="#ffffff"/>
<rect x="303" y="377" width="1" height="2" fill="#ffffff"/>
<rect x="315" y="377" width="1" height="2" fill="#ffffff"/>
<rect x="326" y="377" width="1" height="2" fill="#ffffff"/>
<rect x="338" y="377" width="1" height="2" fill="#ffffff"/>
<rect x="350" y="377" width="1" height="2" fill="#ffffff"/>
<rect x="361" y="377" width="1" height="2" fill="#ffffff"/>
<rect x="373" y="377" width="1" height="2" fill="#ffffff"/>
<rect x="385" y="377" width="1" height="2" fill="#ffffff"/>
<rect x="397" y="377" width="1" height="2" fill="#ffffff"/>
<rect x="408" y="377" width="1" height="4" fill="#ffffff"/>
<rect x="420" y="377" width="1" height="2" fill="#ffffff"/>
<rect x="432" y="377" width="1" height="2" fill="#ffffff"/>
<rect x="443" y="377" width="1" height="2" fill="#ffffff"/>
<rect x="455" y="377" width="1" height="2" fill="#ffffff"/>
<rect x="467" y="377" width="1" height="2" fill="#ffffff"/>
<rect x="478" y="377" width="1" height="2" fill="#ffffff"/>
<rect x="490" y="377" width="1" height="2" fill="#ffffff"/>
<rect x="502" y="377" width="1" height="2" fill="#ffffff"/>
<rect x="513" y="377" width="1" height="2" fill="#ffffff"/>
<rect x="525" y="377" width="1" height="4" fill="#ffffff"/>
<rect x="537" y="377" width="1" height="2" fill="#ffffff"/>
<rect x="548" y="377" width="1" height="2" fill="#ffffff"/>
<rect x="560" y="377" width="1" height="2" fill="#ffffff"/>
<rect x="572" y="377" width="1" height="2" fill="#ffffff"/>
<rect x="584" y="377" width="1" height="2" fill="#ffffff"/>
<rect x="595" y="377" width="1" height="2" fill="#ffffff"/>
<rect x="607" y="377" width="1" height="2" fill="#ffffff"/>
<rect x="619" y="377" width="1" height="2" fill="#ffffff"/>
<rect x="630" y="377" width="1" height="2" fill="#ffffff"/>
<rect x="642" y="377" width="1" height="4" fill="#ffffff"/>
</g>
<g>
<text x="750.4" y="28.8" fill="#f8ff00" text-anchor="end" font-size="13" textLength="32.8" lengthAdjust="spacingAndGlyphs">HETG</text>
<text x="750.4" y="41.8" fill="#00f8ff" text-anchor="end" font-size="13" textLength="29.5" lengthAdjust="spacingAndGlyphs">LETG</text>
<text x="750.4" y="92" fill="#2000f0" text-anchor="end" font-size="13" textLength="43.3" lengthAdjust="spacingAndGlyphs">ACIS-I</text>
<text x="750.4" y="105" fill="#f8ff00" text-anchor="end" font-size="13" textLength="48.5" lengthAdjust="spacingAndGlyphs">ACIS-S</text>
<text x="750.4" y="117.5" fill="#00f8ff" text-anchor="end" font-size="13" textLength="41" lengthAdjust="spacingAndGlyphs">HRC-I</text>
<text x="750.4" y="130" fill="#10ff00" text-anchor="end" font-size="13" textLength="45.5" lengthAdjust="spacingAndGlyphs">HRC-S</text>
<text x="750.4" y="163.6" fill="#ff2000" text-anchor="end" font-size="13" textLength="25" lengthAdjust="spacingAndGlyphs">RAD</text>
<text x="750.4" y="176" fill="#f8ff00" text-anchor="end" font-size="13" textLength="18.3" lengthAdjust="spacingAndGlyphs">CTI</text>
<text x="750.4" y="188.7" fill="#00f8ff" text-anchor="end" font-size="13" textLength="58.3" lengthAdjust="spacingAndGlyphs">ALTITUDE</text>
<text y="218" fill="#10ff00" font-size="13"><tspan x="681" textLength="32.5" lengthAdjust="spacingAndGlyphs">Solar</tspan> <tspan x="721.3" textLength="28.7" lengthAdjust="spacingAndGlyphs">Wind</tspan></text>
<text x="750.4" y="230.7" fill="#00f8ff" text-anchor="end" font-size="13" textLength="97.5" lengthAdjust="spacingAndGlyphs">Magnetosheath</text>
<text x="750.4" y="243.9" fill="#f8ff00" text-anchor="end" font-size="13" textLength="97.5" lengthAdjust="spacingAndGlyphs">Magnetosphere</text>
<text x="750.4" y="281" fill="#ff8000" text-anchor="end" font-size="13" textLength="53.8" lengthAdjust="spacingAndGlyphs">RADMON</text>
<text x="750.4" y="293.8" fill="#ff8000" text-anchor="end" font-size="13" textLength="60.8" lengthAdjust="spacingAndGlyphs">DISABLED</text>
<text x="750.4" y="306.6" fill="#ff2000" text-anchor="end" font-size="13" textLength="42" lengthAdjust="spacingAndGlyphs">SCA00</text>
<text x="750.4" y="319" fill="#ff2000" text-anchor="end" font-size="13" textLength="22.5" lengthAdjust="spacingAndGlyphs">SAT</text>
<text x="750.4" y="348.3" fill="#00f8ff" text-anchor="end" font-size="13" textLength="32.6" lengthAdjust="spacingAndGlyphs">FMT1</text>
<text x="750.4" y="360.6" fill="#10ff00" text-anchor="end" font-size="13" textLength="32.6" lengthAdjust="spacingAndGlyphs">FMT2</text>
<text x="750.4" y="373" fill="#ff8000" text-anchor="end" font-size="13" textLength="32.6" lengthAdjust="spacingAndGlyphs">FMT3</text>
<text x="750.4" y="385.3" fill="#f8ff00" text-anchor="end" font-size="13" textLength="32.6" lengthAdjust="spacingAndGlyphs">FMT4</text>
<text x="750.4" y="397.7" fill="#ff2000" text-anchor="end" font-size="13" textLength="32.6" lengthAdjust="spacingAndGlyphs">FMT5</text>
<text x="58" y="396.8" fill="#ffffff" text-anchor="middle" font-size="12" textLength="21" lengthAdjust="spacingAndGlyphs">152</text>
<text x="175.4" y="396.8" fill="#ffffff" text-anchor="middle" font-size="12" textLength="21" lengthAdjust="spacingAndGlyphs">158</text>
<text x="292.2" y="396.8" fill="#ffffff" text-anchor="middle" font-size="12" textLength="21" lengthAdjust="spacingAndGlyphs">164</text>
<text x="409" y="396.8" fill="#ffffff" text-anchor="middle" font-size="12" textLength="21" lengthAdjust="spacingAndGlyphs">170</text>
<text x="525.8" y="396.8" fill="#ffffff" text-anchor="middle" font-size="12" textLength="21" lengthAdjust="spacingAndGlyphs">176</text>
<text x="642.5" y="396.8" fill="#ffffff" text-anchor="middle" font-size="12" textLength="21" lengthAdjust="spacingAndGlyphs">182</text>
<text y="411" fill="#ffffff" font-size="13"><tspan x="317.5" textLength="24.5" lengthAdjust="spacingAndGlyphs">time</tspan> <tspan x="350" textLength="32.5" lengthAdjust="spacingAndGlyphs">(DOY)</tspan></text>
<text y="419.3" fill="#ffffff" font-size="13"><tspan x="514.5" textLength="56.5" lengthAdjust="spacingAndGlyphs">Updated:</tspan> <tspan x="579.5" textLength="16" lengthAdjust="spacingAndGlyphs">Fri</tspan> <tspan x="603.5" textLength="16.5" lengthAdjust="spacingAndGlyphs">Jul</tspan> <tspan x="628.5" textLength="14.5" lengthAdjust="spacingAndGlyphs">13</tspan> <tspan x="652.7" textLength="56.8" lengthAdjust="spacingAndGlyphs">14:54:33</tspan> <tspan x="718" textLength="31.5" lengthAdjust="spacingAndGlyphs">2007</tspan></text>
</g>
</svg>
</body></html>
